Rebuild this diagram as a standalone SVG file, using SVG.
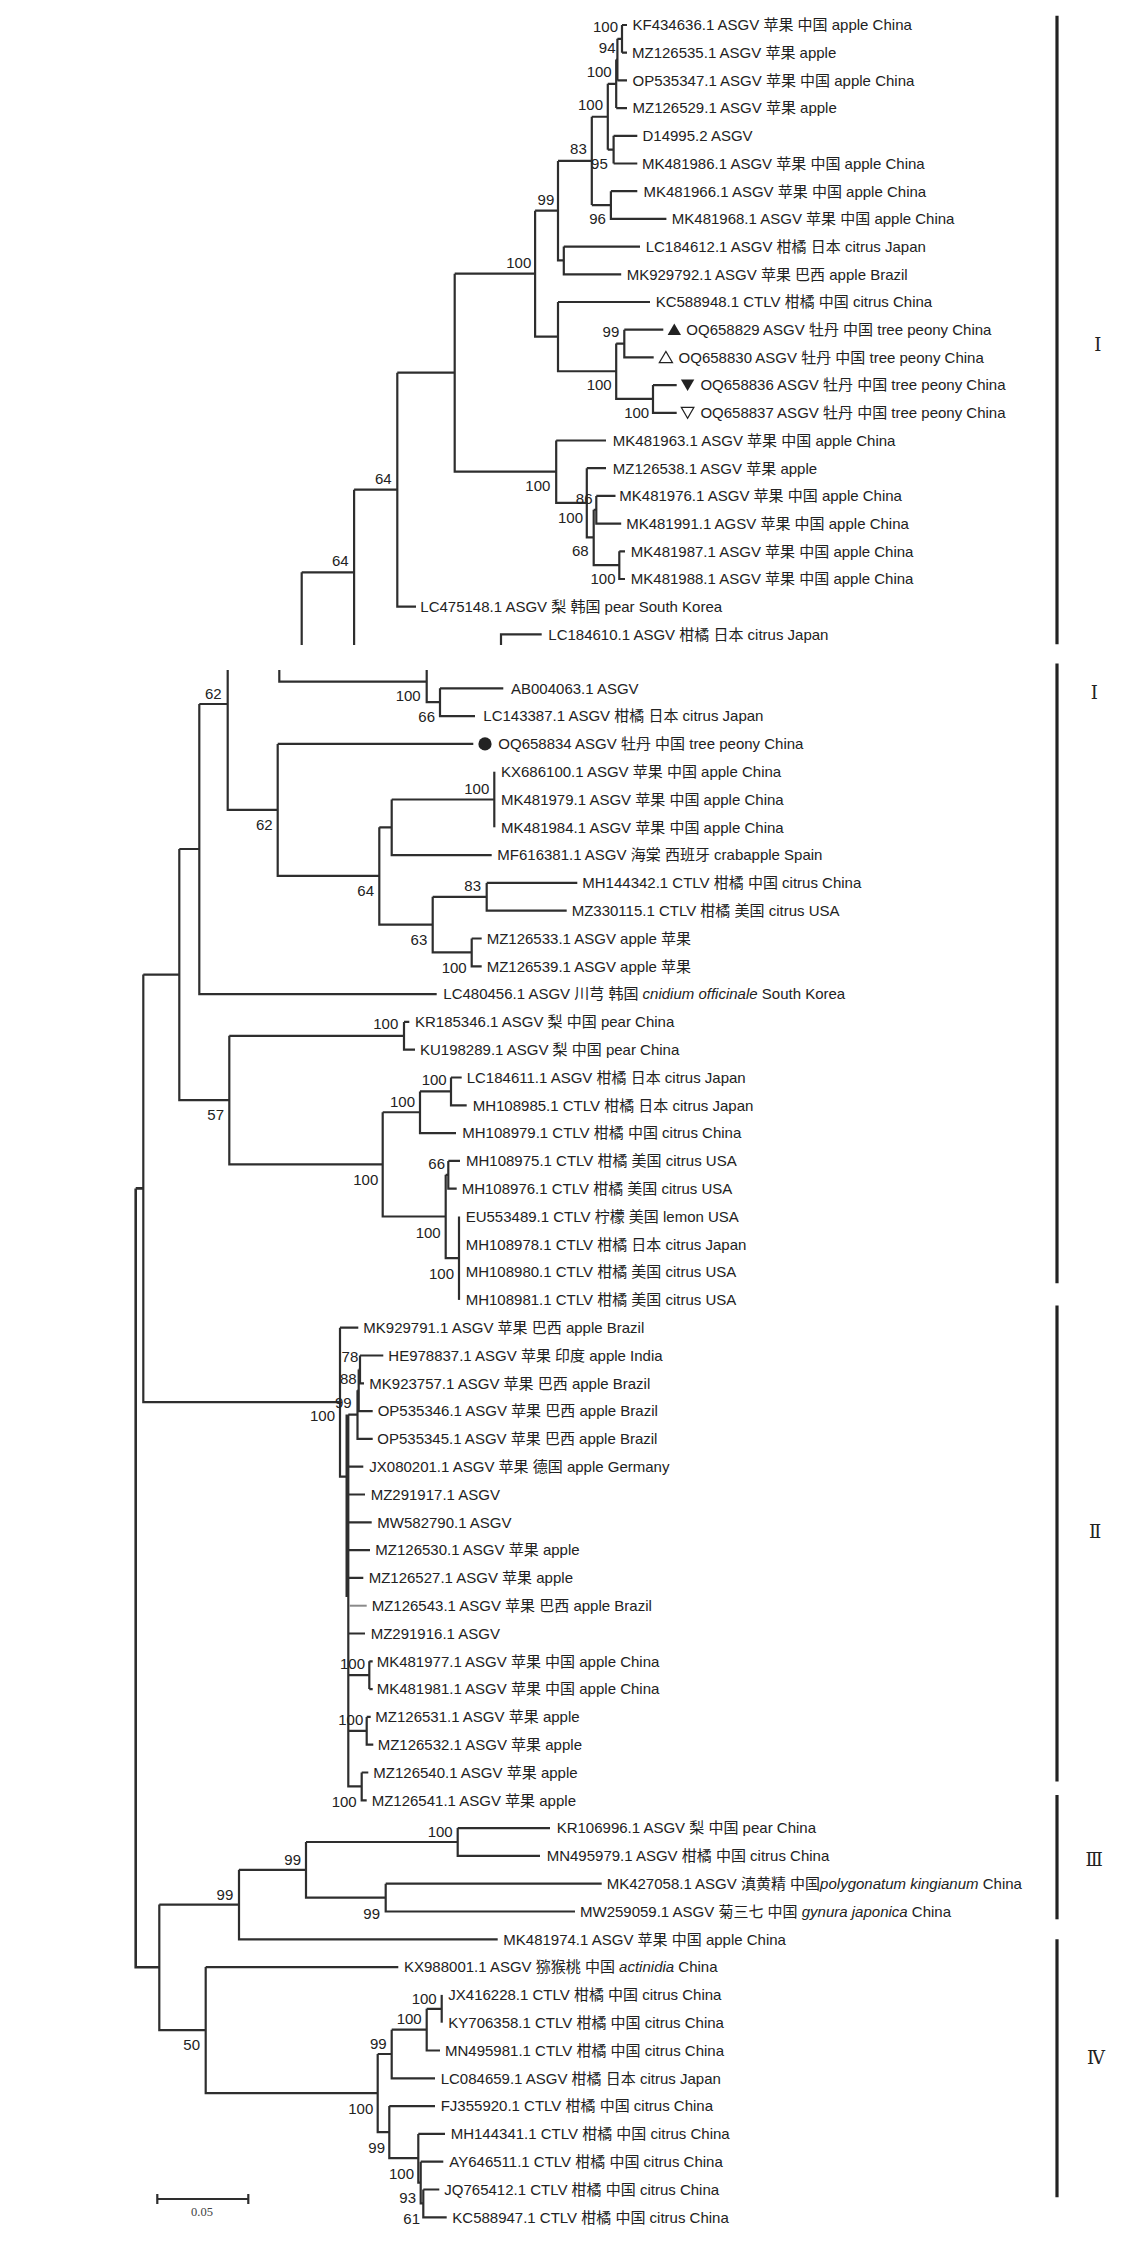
<svg xmlns="http://www.w3.org/2000/svg" width="1141" height="2249" viewBox="0 0 1141 2249">
<style>
.t{font-family:"Liberation Sans","Noto Sans CJK SC",Arial,sans-serif;font-size:15px;fill:#222}
.b{font-family:"Liberation Sans",Arial,sans-serif;font-size:15px;fill:#222;text-anchor:end}
.i{font-style:italic}
.br{fill:none;stroke:#2e2e2e;stroke-width:2.2}
.lt{fill:none;stroke:#8a8a8a;stroke-width:2}
.clade{stroke:#222;stroke-width:3.2}
.rn{font-family:"DejaVu Serif","Liberation Serif","Noto Sans CJK SC",serif;font-size:18px;fill:#222;text-anchor:middle}
.sc{font-family:"Liberation Serif",serif;font-size:12.5px;fill:#444;text-anchor:middle}
.mk{fill:#222}
.mo{fill:none;stroke:#222;stroke-width:1.2}
</style>
<rect width="1141" height="2249" fill="#fff"/>

<g id="connectors">
<!-- top page -->
<path class="br" d="M622 25V52.7M622 25H627M622 52.7H627"/>
<path class="br" d="M617.4 38.85V80.4M617.4 38.85H622M617.4 80.4H627"/>
<path class="br" d="M616.2 59.6V108.1M616.2 59.6H617.4M616.2 108.1H627"/>
<path class="br" d="M613.6 135.8V163.5M613.6 135.8H637.3M613.6 163.5H637.3"/>
<path class="br" d="M607.8 83.85V149.65M607.8 83.85H616.2M607.8 149.65H613.6"/>
<path class="br" d="M610.9 191.2V218.9H666.4M610.9 191.2H637.3"/>
<path class="br" d="M591.8 116.75V205.05M591.8 116.75H607.8M591.8 205.05H610.9"/>
<path class="br" d="M563.8 246.6V274.3H621.2M563.8 246.6H640"/>
<path class="br" d="M558 160.9V260.45H563.8M558 160.9H591.8"/>
<path class="br" d="M624.3 329.7V357.4H653.7M624.3 329.7H663.3"/>
<path class="br" d="M653 385.1V412.8H676.7M653 385.1H676.7"/>
<path class="br" d="M616.2 343.55V398.95H653M616.2 343.55H624.3"/>
<path class="br" d="M558 302V371.25H616.2M558 302H650"/>
<path class="br" d="M535.1 210.7V336.6H558M535.1 210.7H558"/>
<path class="br" d="M619.3 551.3V579H625M619.3 551.3H625"/>
<path class="br" d="M596.3 495.9V523.6H621.2M596.3 495.9H615.5"/>
<path class="br" d="M593.7 509.75V565.15H619.3M593.7 509.75H596.3"/>
<path class="br" d="M586.8 468.2V537.45H593.7M586.8 468.2H606"/>
<path class="br" d="M556.2 440.5V502.8H586.8M556.2 440.5H606"/>
<path class="br" d="M454.7 273.65V471.65H556.2M454.7 273.65H535.1"/>
<path class="br" d="M397.3 372.65V606.7H416M397.3 372.65H454.7"/>
<path class="br" d="M354.1 489.7V645M354.1 489.7H397.3"/>
<path class="br" d="M301.7 572.3V645M301.7 572.3H354.1"/>
<path class="br" d="M501 645V634.4H541.7"/>
<!-- lower page -->
<path class="br" d="M279.3 670V681.7H426.7M426.7 670V702.2H440"/>
<path class="br" d="M440 688.3V716.1H475M440 688.3H503.3"/>
<path class="br" d="M227.7 670V809.9H277.7"/>
<path class="br" d="M277.7 743.9V875.95H379.3M277.7 743.9H473.3"/>
<path class="br" d="M494.3 771.7V827.3"/>
<path class="br" d="M391.7 799.5V855.1H491.7M391.7 799.5H494.3"/>
<path class="br" d="M379.3 827.3V924.6H432.7M379.3 827.3H391.7"/>
<path class="br" d="M486.7 882.9V910.7H566.7M486.7 882.9H577.3"/>
<path class="br" d="M471.7 938.5V966.3H481.7M471.7 938.5H481.7"/>
<path class="br" d="M432.7 896.8V952.4H471.7M432.7 896.8H486.7"/>
<path class="br" d="M199.3 704V994.1H436.7M199.3 704H227.7"/>
<path class="br" d="M404 1021.9V1049.7H415M404 1021.9H409.3"/>
<path class="br" d="M451 1077.5V1105.3H466.7M451 1077.5H461.7"/>
<path class="br" d="M420 1091.4V1133.1H456M420 1091.4H451"/>
<path class="br" d="M448.3 1160.9V1188.7H456.7M448.3 1160.9H460"/>
<path class="br" d="M459 1216.5V1299.9"/>
<path class="br" d="M445.7 1174.8V1258.2H459M445.7 1174.8H448.3"/>
<path class="br" d="M382.7 1112.25V1216.5H445.7M382.7 1112.25H420"/>
<path class="br" d="M229.3 1035.8V1164.4H382.7M229.3 1035.8H404"/>
<path class="br" d="M179.3 849V1100.1H229.3M179.3 849H199.3"/>
<path class="br" d="M360 1355.5V1383.3H364M360 1355.5H383.3"/>
<path class="br" d="M358.7 1369.4V1411.1H372.7M358.7 1369.4H360"/>
<path class="br" d="M357.5 1390.25V1438.9H372.7M357.5 1390.25H358.7"/>
<path class="br" d="M369.3 1661.3V1689.1M369.3 1661.3H372.7M369.3 1689.1H372.7"/>
<path class="br" d="M366.7 1716.9V1744.7H373.3M366.7 1716.9H370.7"/>
<path class="br" d="M361.7 1772.5V1800.3H366.7M361.7 1772.5H368.3"/>
<path class="br" d="M348.3 1414.6V1786.4H361.7M348.3 1414.6H357.5M346.6 1414.6V1597M348.3 1466.7H363.3M348.3 1494.5H365M348.3 1522.3H371.7M348.3 1550.1H370M348.3 1577.9H363.3M348.3 1633.5H365M348.3 1675.2H369.3M348.3 1730.8H366.7"/>
<path class="lt" d="M349.5 1605.7H366.7"/>
<path class="br" d="M340 1327.7V1476.7H346.6M340 1327.7H358.3"/>
<path class="br" d="M143.3 974.55V1402.2H340M143.3 974.55H179.3"/>
<path class="br" d="M457.7 1828.1V1855.9H540M457.7 1828.1H550"/>
<path class="br" d="M385.7 1883.7V1911.5H575M385.7 1883.7H601.7"/>
<path class="br" d="M306 1842V1897.6H385.7M306 1842H457.7"/>
<path class="br" d="M239 1869.8V1939.3H497.7M239 1869.8H306"/>
<path class="br" d="M441.7 1994.9V2022.7"/>
<path class="br" d="M426.7 2008.8V2050.5H440M426.7 2008.8H441.7"/>
<path class="br" d="M391.7 2029.65V2078.3H435M391.7 2029.65H426.7"/>
<path class="br" d="M423.3 2189.5V2217.3H446.7M423.3 2189.5H439.3"/>
<path class="br" d="M420.7 2161.7V2203.4H423.3M420.7 2161.7H443.3"/>
<path class="br" d="M418.3 2133.9V2182.55H420.7M418.3 2133.9H445"/>
<path class="br" d="M389.3 2106.1V2158.2H418.3M389.3 2106.1H435"/>
<path class="br" d="M377.7 2054V2132.15H389.3M377.7 2054H391.7"/>
<path class="br" d="M205.7 1967.1V2093.1H377.7M205.7 1967.1H398.3"/>
<path class="br" d="M159.3 1904.55V2030.1H205.7M159.3 1904.55H239"/>
<path class="br" style="stroke-width:2.6" d="M135.7 1188.4V1967.3H159.3M135.7 1188.4H143.3"/>
</g>

<g id="support">
<text class="b" x="618" y="32">100</text>
<text class="b" x="615.5" y="53.3">94</text>
<text class="b" x="611.7" y="77">100</text>
<text class="b" x="603" y="110.3">100</text>
<text class="b" x="586.8" y="154.3">83</text>
<text class="b" x="607.8" y="168.6">95</text>
<text class="b" x="605.9" y="224.3">96</text>
<text class="b" x="554.3" y="204.6">99</text>
<text class="b" x="531.3" y="267.6">100</text>
<text class="b" x="619.3" y="337">99</text>
<text class="b" x="611.7" y="390.3">100</text>
<text class="b" x="649.2" y="417.6">100</text>
<text class="b" x="550.4" y="491">100</text>
<text class="b" x="592.5" y="503.6">86</text>
<text class="b" x="583" y="522.6">100</text>
<text class="b" x="588.7" y="556.3">68</text>
<text class="b" x="615.5" y="584.3">100</text>
<text class="b" x="391.6" y="483.6">64</text>
<text class="b" x="348.7" y="566">64</text>
<text class="b" x="221.7" y="698.6">62</text>
<text class="b" x="420.7" y="701.3">100</text>
<text class="b" x="435" y="722">66</text>
<text class="b" x="489.3" y="794.3">100</text>
<text class="b" x="272.7" y="830.3">62</text>
<text class="b" x="374" y="896.3">64</text>
<text class="b" x="481" y="891.3">83</text>
<text class="b" x="427.3" y="945.3">63</text>
<text class="b" x="466.7" y="972.6">100</text>
<text class="b" x="398.3" y="1029.3">100</text>
<text class="b" x="224" y="1120.3">57</text>
<text class="b" x="446.7" y="1085.3">100</text>
<text class="b" x="415" y="1107">100</text>
<text class="b" x="378.3" y="1184.6">100</text>
<text class="b" x="445" y="1168.6">66</text>
<text class="b" x="440.7" y="1238">100</text>
<text class="b" x="454" y="1279.3">100</text>
<text class="b" x="358.3" y="1362">78</text>
<text class="b" x="356.7" y="1383.6">88</text>
<text class="b" x="351.7" y="1408">99</text>
<text class="b" x="335" y="1421.3">100</text>
<text class="b" x="365" y="1669.3">100</text>
<text class="b" x="363.3" y="1725.3">100</text>
<text class="b" x="356.7" y="1807">100</text>
<text class="b" x="452.7" y="1837">100</text>
<text class="b" x="301" y="1864.6">99</text>
<text class="b" x="233.3" y="1899.6">99</text>
<text class="b" x="380" y="1919.3">99</text>
<text class="b" x="436.7" y="2003.6">100</text>
<text class="b" x="421.7" y="2024.3">100</text>
<text class="b" x="386.7" y="2048.6">99</text>
<text class="b" x="200" y="2050.3">50</text>
<text class="b" x="373.3" y="2113.6">100</text>
<text class="b" x="385" y="2153">99</text>
<text class="b" x="414" y="2178.6">100</text>
<text class="b" x="416" y="2202.6">93</text>
<text class="b" x="420" y="2223.6">61</text>
</g>

<g id="leaves-top">
<g id="leaf-KF434636"><text class="t" x="632.5" y="30.3">KF434636.1 ASGV 苹果 中国 apple China</text></g>
<g id="leaf-MZ126535"><text class="t" x="632" y="58">MZ126535.1 ASGV 苹果 apple</text></g>
<g id="leaf-OP535347"><text class="t" x="632.5" y="85.7">OP535347.1 ASGV 苹果 中国 apple China</text></g>
<g id="leaf-MZ126529"><text class="t" x="632.5" y="113.4">MZ126529.1 ASGV 苹果 apple</text></g>
<g id="leaf-D14995"><text class="t" x="642.5" y="141.1">D14995.2 ASGV</text></g>
<g id="leaf-MK481986"><text class="t" x="642" y="168.8">MK481986.1 ASGV 苹果 中国 apple China</text></g>
<g id="leaf-MK481966"><text class="t" x="643.5" y="196.5">MK481966.1 ASGV 苹果 中国 apple China</text></g>
<g id="leaf-MK481968"><text class="t" x="671.8" y="224.2">MK481968.1 ASGV 苹果 中国 apple China</text></g>
<g id="leaf-LC184612"><text class="t" x="645.7" y="251.9">LC184612.1 ASGV 柑橘 日本 citrus Japan</text></g>
<g id="leaf-MK929792"><text class="t" x="626.7" y="279.6">MK929792.1 ASGV 苹果 巴西 apple Brazil</text></g>
<g id="leaf-KC588948"><text class="t" x="655.7" y="307.3">KC588948.1 CTLV 柑橘 中国 citrus China</text></g>
<g id="leaf-OQ658829"><polygon class="mk" points="667.6,335 681,335 674.3,323.6"/><text class="t" x="686.3" y="335">OQ658829 ASGV 牡丹 中国 tree peony China</text></g>
<g id="leaf-OQ658830"><polygon class="mo" points="659.3,362.6 672.5,362.6 665.9,351.4"/><text class="t" x="678.6" y="362.7">OQ658830 ASGV 牡丹 中国 tree peony China</text></g>
<g id="leaf-OQ658836"><polygon class="mk" points="680.9,379.6 694.3,379.6 687.6,391"/><text class="t" x="700.4" y="390.4">OQ658836 ASGV 牡丹 中国 tree peony China</text></g>
<g id="leaf-OQ658837"><polygon class="mo" points="681.3,407.4 693.9,407.4 687.6,418.4"/><text class="t" x="700.4" y="418.1">OQ658837 ASGV 牡丹 中国 tree peony China</text></g>
<g id="leaf-MK481963"><text class="t" x="612.8" y="445.8">MK481963.1 ASGV 苹果 中国 apple China</text></g>
<g id="leaf-MZ126538"><text class="t" x="612.8" y="473.5">MZ126538.1 ASGV 苹果 apple</text></g>
<g id="leaf-MK481976"><text class="t" x="619.3" y="501.2">MK481976.1 ASGV 苹果 中国 apple China</text></g>
<g id="leaf-MK481991"><text class="t" x="626.2" y="528.9">MK481991.1 AGSV 苹果 中国 apple China</text></g>
<g id="leaf-MK481987"><text class="t" x="630.8" y="556.6">MK481987.1 ASGV 苹果 中国 apple China</text></g>
<g id="leaf-MK481988"><text class="t" x="630.8" y="584.3">MK481988.1 ASGV 苹果 中国 apple China</text></g>
<g id="leaf-LC475148"><text class="t" x="420.3" y="612">LC475148.1 ASGV 梨 韩国 pear South Korea</text></g>
<g id="leaf-LC184610"><text class="t" x="548.3" y="639.7">LC184610.1 ASGV 柑橘 日本 citrus Japan</text></g>
</g>

<g id="leaves-bottom">
<g id="leaf-AB004063"><text class="t" x="511" y="693.6">AB004063.1 ASGV</text></g>
<g id="leaf-LC143387"><text class="t" x="483.3" y="721.4">LC143387.1 ASGV 柑橘 日本 citrus Japan</text></g>
<g id="leaf-OQ658834"><circle class="mk" cx="485" cy="743.9" r="6.6"/><text class="t" x="498.3" y="749.2">OQ658834 ASGV 牡丹 中国 tree peony China</text></g>
<g id="leaf-KX686100"><text class="t" x="501" y="777">KX686100.1 ASGV 苹果 中国 apple China</text></g>
<g id="leaf-MK481979"><text class="t" x="501" y="804.8">MK481979.1 ASGV 苹果 中国 apple China</text></g>
<g id="leaf-MK481984"><text class="t" x="501" y="832.6">MK481984.1 ASGV 苹果 中国 apple China</text></g>
<g id="leaf-MF616381"><text class="t" x="497.3" y="860.4">MF616381.1 ASGV 海棠 西班牙 crabapple Spain</text></g>
<g id="leaf-MH144342"><text class="t" x="582.3" y="888.2">MH144342.1 CTLV 柑橘 中国 citrus China</text></g>
<g id="leaf-MZ330115"><text class="t" x="571.7" y="916">MZ330115.1 CTLV 柑橘 美国 citrus USA</text></g>
<g id="leaf-MZ126533"><text class="t" x="486.7" y="943.8">MZ126533.1 ASGV apple 苹果</text></g>
<g id="leaf-MZ126539"><text class="t" x="486.7" y="971.6">MZ126539.1 ASGV apple 苹果</text></g>
<g id="leaf-LC480456"><text class="t" x="443.3" y="999.4">LC480456.1 ASGV 川芎 韩国 <tspan class="i">cnidium officinale</tspan> South Korea</text></g>
<g id="leaf-KR185346"><text class="t" x="415" y="1027.2">KR185346.1 ASGV 梨 中国 pear China</text></g>
<g id="leaf-KU198289"><text class="t" x="420" y="1055">KU198289.1 ASGV 梨 中国 pear China</text></g>
<g id="leaf-LC184611"><text class="t" x="466.7" y="1082.8">LC184611.1 ASGV 柑橘 日本 citrus Japan</text></g>
<g id="leaf-MH108985"><text class="t" x="472.7" y="1110.6">MH108985.1 CTLV 柑橘 日本 citrus Japan</text></g>
<g id="leaf-MH108979"><text class="t" x="462.3" y="1138.4">MH108979.1 CTLV 柑橘 中国 citrus China</text></g>
<g id="leaf-MH108975"><text class="t" x="466" y="1166.2">MH108975.1 CTLV 柑橘 美国 citrus USA</text></g>
<g id="leaf-MH108976"><text class="t" x="461.7" y="1194">MH108976.1 CTLV 柑橘 美国 citrus USA</text></g>
<g id="leaf-EU553489"><text class="t" x="465.7" y="1221.8">EU553489.1 CTLV 柠檬 美国 lemon USA</text></g>
<g id="leaf-MH108978"><text class="t" x="465.7" y="1249.6">MH108978.1 CTLV 柑橘 日本 citrus Japan</text></g>
<g id="leaf-MH108980"><text class="t" x="465.7" y="1277.4">MH108980.1 CTLV 柑橘 美国 citrus USA</text></g>
<g id="leaf-MH108981"><text class="t" x="465.7" y="1305.2">MH108981.1 CTLV 柑橘 美国 citrus USA</text></g>
<g id="leaf-MK929791"><text class="t" x="363.3" y="1333">MK929791.1 ASGV 苹果 巴西 apple Brazil</text></g>
<g id="leaf-HE978837"><text class="t" x="388.3" y="1360.8">HE978837.1 ASGV 苹果 印度 apple India</text></g>
<g id="leaf-MK923757"><text class="t" x="369.3" y="1388.6">MK923757.1 ASGV 苹果 巴西 apple Brazil</text></g>
<g id="leaf-OP535346"><text class="t" x="377.7" y="1416.4">OP535346.1 ASGV 苹果 巴西 apple Brazil</text></g>
<g id="leaf-OP535345"><text class="t" x="377.3" y="1444.2">OP535345.1 ASGV 苹果 巴西 apple Brazil</text></g>
<g id="leaf-JX080201"><text class="t" x="369.3" y="1472">JX080201.1 ASGV 苹果 德国 apple Germany</text></g>
<g id="leaf-MZ291917"><text class="t" x="370.7" y="1499.8">MZ291917.1 ASGV</text></g>
<g id="leaf-MW582790"><text class="t" x="377.3" y="1527.6">MW582790.1 ASGV</text></g>
<g id="leaf-MZ126530"><text class="t" x="375.3" y="1555.4">MZ126530.1 ASGV 苹果 apple</text></g>
<g id="leaf-MZ126527"><text class="t" x="368.7" y="1583.2">MZ126527.1 ASGV 苹果 apple</text></g>
<g id="leaf-MZ126543"><text class="t" x="371.7" y="1611">MZ126543.1 ASGV 苹果 巴西 apple Brazil</text></g>
<g id="leaf-MZ291916"><text class="t" x="370.7" y="1638.8">MZ291916.1 ASGV</text></g>
<g id="leaf-MK481977"><text class="t" x="376.7" y="1666.6">MK481977.1 ASGV 苹果 中国 apple China</text></g>
<g id="leaf-MK481981"><text class="t" x="376.7" y="1694.4">MK481981.1 ASGV 苹果 中国 apple China</text></g>
<g id="leaf-MZ126531"><text class="t" x="375.3" y="1722.2">MZ126531.1 ASGV 苹果 apple</text></g>
<g id="leaf-MZ126532"><text class="t" x="377.7" y="1750">MZ126532.1 ASGV 苹果 apple</text></g>
<g id="leaf-MZ126540"><text class="t" x="373.3" y="1777.8">MZ126540.1 ASGV 苹果 apple</text></g>
<g id="leaf-MZ126541"><text class="t" x="371.7" y="1805.6">MZ126541.1 ASGV 苹果 apple</text></g>
<g id="leaf-KR106996"><text class="t" x="556.7" y="1833.4">KR106996.1 ASGV 梨 中国 pear China</text></g>
<g id="leaf-MN495979"><text class="t" x="546.7" y="1861.2">MN495979.1 ASGV 柑橘 中国 citrus China</text></g>
<g id="leaf-MK427058"><text class="t" x="606.7" y="1889">MK427058.1 ASGV 滇黄精 中国<tspan class="i">polygonatum kingianum</tspan> China</text></g>
<g id="leaf-MW259059"><text class="t" x="580" y="1916.8">MW259059.1 ASGV 菊三七 中国 <tspan class="i">gynura japonica</tspan> China</text></g>
<g id="leaf-MK481974"><text class="t" x="503.3" y="1944.6">MK481974.1 ASGV 苹果 中国 apple China</text></g>
<g id="leaf-KX988001"><text class="t" x="404" y="1972.4">KX988001.1 ASGV 猕猴桃 中国 <tspan class="i">actinidia</tspan> China</text></g>
<g id="leaf-JX416228"><text class="t" x="448.3" y="2000.2">JX416228.1 CTLV 柑橘 中国 citrus China</text></g>
<g id="leaf-KY706358"><text class="t" x="448.3" y="2028">KY706358.1 CTLV 柑橘 中国 citrus China</text></g>
<g id="leaf-MN495981"><text class="t" x="445" y="2055.8">MN495981.1 CTLV 柑橘 中国 citrus China</text></g>
<g id="leaf-LC084659"><text class="t" x="440.7" y="2083.6">LC084659.1 ASGV 柑橘 日本 citrus Japan</text></g>
<g id="leaf-FJ355920"><text class="t" x="440.7" y="2111.4">FJ355920.1 CTLV 柑橘 中国 citrus China</text></g>
<g id="leaf-MH144341"><text class="t" x="450.7" y="2139.2">MH144341.1 CTLV 柑橘 中国 citrus China</text></g>
<g id="leaf-AY646511"><text class="t" x="449.3" y="2167">AY646511.1 CTLV 柑橘 中国 citrus China</text></g>
<g id="leaf-JQ765412"><text class="t" x="444.3" y="2194.8">JQ765412.1 CTLV 柑橘 中国 citrus China</text></g>
<g id="leaf-KC588947"><text class="t" x="452.3" y="2222.6">KC588947.1 CTLV 柑橘 中国 citrus China</text></g>
</g>

<g id="clades">
<line class="clade" x1="1057" y1="15.8" x2="1057" y2="644.3"/>
<line class="clade" x1="1057" y1="663.6" x2="1057" y2="1283.3"/>
<line class="clade" x1="1057" y1="1305.5" x2="1057" y2="1781.5"/>
<line class="clade" x1="1057" y1="1795" x2="1057" y2="1919.3"/>
<line class="clade" x1="1057" y1="1939.3" x2="1057" y2="2197.3"/>
<text class="rn" x="1097.7" y="350.5">Ⅰ</text>
<text class="rn" x="1094.3" y="698.8">Ⅰ</text>
<text class="rn" x="1095" y="1538">Ⅱ</text>
<text class="rn" x="1094.3" y="1865.8">Ⅲ</text>
<text class="rn" x="1096" y="2064.2">Ⅳ</text>
</g>

<g id="scale-bar">
<path class="br" d="M157.3 2199H248.3M157.3 2194V2204M248.3 2194V2204"/>
<text class="sc" x="202" y="2216">0.05</text>
</g>
</svg>
